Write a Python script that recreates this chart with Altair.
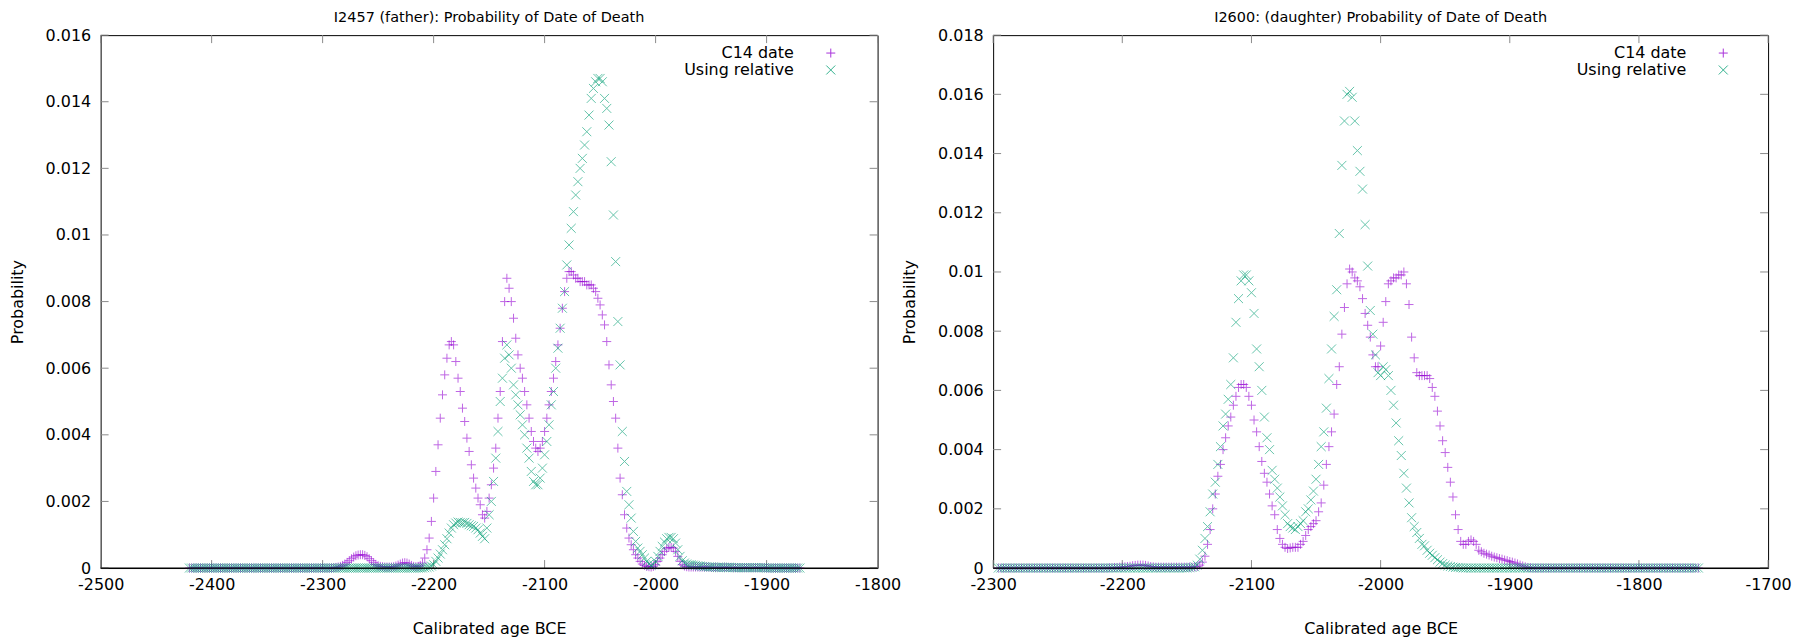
import altair as alt
import pandas as pd

FONT = "DejaVu Sans"
TITLE_L = "I2457 (father): Probability of Date of Death"
TITLE_R = "I2600: (daughter) Probability of Date of Death"
X_TITLE = "Calibrated age BCE"
Y_TITLE = "Probability"
SERIES = ["C14 date", "Using relative"]
COLORS = ["#9400d3", "#009e73"]

# ---- left panel (I2457), one value every 2 years starting at -2420 ----
L_START, L_STEP = -2420, 2
L_C14 = [
    0, 0, 0, 0, 0, 0, 0, 0, 0, 0,
    0, 0, 0, 0, 0, 0, 0, 0, 0, 0,
    0, 0, 0, 0, 0, 0, 0, 0, 0, 0,
    0, 0, 0, 0, 0, 0, 0, 0, 0, 0,
    0, 0, 0, 0, 0, 0, 0, 0, 0, 0,
    0, 0, 0, 0, 0, 0, 0, 0, 0, 0,
    0, 0, 0, 0, 0, 0.00001, 0.00002, 0.00003, 0.00005, 0.00008,
    0.00012, 0.00017, 0.00022, 0.00028, 0.00033, 0.00037, 0.00039, 0.0004, 0.0004, 0.00038,
    0.00034, 0.00028, 0.00022, 0.00016, 0.00011, 0.00007, 0.00005, 0.00004, 0.00003, 0.00003,
    0.00003, 0.00003, 0.00004, 0.00006, 0.00009, 0.00012, 0.00015, 0.00016, 0.00015, 0.00012,
    0.00008, 0.00005, 0.00004, 0.00005, 0.00008, 0.00015, 0.0003, 0.00055, 0.0009, 0.0014,
    0.0021, 0.0029, 0.0037, 0.0045, 0.0052, 0.0058, 0.0063, 0.0067, 0.0068, 0.0067,
    0.0062, 0.0057, 0.0053, 0.0048, 0.0044, 0.0039, 0.0035, 0.0031, 0.0027, 0.0024,
    0.0021, 0.0019, 0.0016, 0.0015, 0.0017, 0.0021, 0.0025, 0.003, 0.0036, 0.0045,
    0.0053, 0.0068, 0.008, 0.0087, 0.0084, 0.008, 0.0075, 0.0069, 0.0064, 0.006,
    0.0057, 0.0053, 0.0049, 0.0045, 0.0041, 0.0038, 0.0036, 0.0035, 0.0036, 0.0038,
    0.0041, 0.0045, 0.0049, 0.0053, 0.0057, 0.0062, 0.0067, 0.0072, 0.0078, 0.0083,
    0.0087, 0.0089, 0.0089, 0.0088, 0.0087, 0.0087, 0.0086, 0.0086, 0.0086, 0.0085,
    0.0085, 0.0085, 0.0084, 0.0083, 0.0081, 0.0079, 0.0076, 0.0073, 0.0068, 0.0061,
    0.0055, 0.005, 0.0045, 0.0036, 0.0027, 0.0022, 0.0016, 0.0012, 0.0009, 0.0007,
    0.00055, 0.0004, 0.0003, 0.0002, 0.00012, 0.00008, 0.00005, 0.00004, 0.00003, 0.00005,
    0.0001, 0.0002, 0.0003, 0.0004, 0.0005, 0.00058, 0.00062, 0.00062, 0.0006, 0.0005,
    0.00035, 0.0002, 0.0001, 0.00006, 0.00004, 0.00003, 0.00003, 0.00003, 0.00003, 0.00003,
    0.00003, 0.00003, 0.00003, 0.00003, 0.00003, 0.00002, 0.00002, 0.00002, 0.00002, 0.00002,
    0.00002, 0.00002, 0.00002, 0.00002, 0.00002, 0.00001, 0.00001, 0.00001, 0.00001, 0.00001,
    0.00001, 0.00001, 0.00001, 0.00001, 0.00001, 0.00001, 0.00001, 0.00001, 0.00001, 0.00001,
    0, 0, 0, 0, 0, 0, 0, 0, 0, 0,
    0, 0, 0, 0, 0, 0,
]
L_REL = [
    0, 0, 0, 0, 0, 0, 0, 0, 0, 0,
    0, 0, 0, 0, 0, 0, 0, 0, 0, 0,
    0, 0, 0, 0, 0, 0, 0, 0, 0, 0,
    0, 0, 0, 0, 0, 0, 0, 0, 0, 0,
    0, 0, 0, 0, 0, 0, 0, 0, 0, 0,
    0, 0, 0, 0, 0, 0, 0, 0, 0, 0,
    0, 0, 0, 0, 0, 0, 0, 0, 0, 0,
    0, 0, 0, 0, 0, 0, 0, 0, 0, 0,
    0, 0, 0, 0, 0, 0, 0, 0, 0, 0,
    0, 0, 0, 0, 0, 0, 0, 0, 0, 0,
    0, 0, 0, 0, 0, 0, 0.00001, 0.00002, 0.00003, 0.00006,
    0.0001, 0.0002, 0.0003, 0.00042, 0.00055, 0.0007, 0.00088, 0.00105, 0.0012, 0.0013,
    0.00135, 0.00138, 0.00137, 0.00136, 0.00137, 0.00134, 0.0013, 0.00127, 0.00125, 0.0012,
    0.00115, 0.00105, 0.00095, 0.00088, 0.0012, 0.0016, 0.002, 0.0026, 0.0033, 0.0041,
    0.005, 0.0057, 0.0063, 0.0067, 0.0064, 0.006, 0.0055, 0.0052, 0.0049, 0.0046,
    0.0043, 0.004, 0.0036, 0.0033, 0.0029, 0.0026, 0.0025, 0.0025, 0.0027, 0.003,
    0.0034, 0.0038, 0.0043, 0.0049, 0.0053, 0.006, 0.0066, 0.0072, 0.0078, 0.0083,
    0.0091, 0.0097, 0.0102, 0.0107, 0.0112, 0.0116, 0.012, 0.0123, 0.0127, 0.0131,
    0.0136, 0.0141, 0.0144, 0.0146, 0.0147, 0.0147, 0.0146, 0.0141, 0.0138, 0.0133,
    0.0122, 0.0106, 0.0092, 0.0074, 0.0061, 0.0041, 0.0032, 0.0023, 0.0019, 0.0015,
    0.0011, 0.0008, 0.0006, 0.0005, 0.0004, 0.0003, 0.0002, 0.00012, 0.00008, 0.0001,
    0.0002, 0.00035, 0.0005, 0.00065, 0.00078, 0.00088, 0.00092, 0.00092, 0.00088, 0.00075,
    0.00055, 0.00035, 0.00022, 0.00015, 0.00012, 0.0001, 0.0001, 0.00009, 0.00008, 0.00007,
    0.00006, 0.00005, 0.00004, 0.00004, 0.00003, 0.00003, 0.00003, 0.00002, 0.00002, 0.00002,
    0.00002, 0.00002, 0.00002, 0.00002, 0.00002, 0.00001, 0.00001, 0.00001, 0.00001, 0.00001,
    0.00001, 0.00001, 0.00001, 0.00001, 0.00001, 0.00001, 0.00001, 0.00001, 0.00001, 0.00001,
    0, 0, 0, 0, 0, 0, 0, 0, 0, 0,
    0, 0, 0, 0, 0, 0,
]

# ---- right panel (I2600), one value every 2 years starting at -2296 ----
R_START, R_STEP = -2296, 2
R_C14 = [
    0, 0, 0, 0, 0, 0, 0, 0, 0, 0,
    0, 0, 0, 0, 0, 0, 0, 0, 0, 0,
    0, 0, 0, 0, 0, 0, 0, 0, 0, 0,
    0, 0, 0, 0, 0, 0, 0, 0, 0, 0,
    0, 0, 0, 0.00001, 0.00001, 0.00002, 0.00002, 0.00003, 0.00003, 0.00004,
    0.00005, 0.00006, 0.00008, 0.00009, 0.0001, 0.0001, 0.0001, 0.00009, 0.00007, 0.00005,
    0.00004, 0.00003, 0.00003, 0.00003, 0.00003, 0.00003, 0.00003, 0.00003, 0.00003, 0.00003,
    0.00003, 0.00003, 0.00003, 0.00003, 0.00003, 0.00003, 0.00004, 0.00005, 0.0001, 0.0002,
    0.0004, 0.0008, 0.0013, 0.002, 0.0025, 0.0031, 0.0035, 0.004, 0.0044, 0.0048,
    0.0051, 0.0055, 0.0058, 0.0061, 0.0062, 0.0062, 0.0061, 0.0058, 0.0055, 0.005,
    0.0046, 0.0041, 0.0036, 0.0032, 0.0029, 0.0025, 0.0021, 0.0018, 0.0013, 0.001,
    0.0008, 0.0007, 0.00066, 0.00068, 0.0007, 0.0007, 0.0007, 0.0008, 0.0009, 0.0011,
    0.0013, 0.0014, 0.0015, 0.0016, 0.0019, 0.0022, 0.0028, 0.0035, 0.0041, 0.0046,
    0.0052, 0.0062, 0.0068, 0.0079, 0.0088, 0.0096, 0.0101, 0.01, 0.0098, 0.0097,
    0.0095, 0.0091, 0.0086, 0.0082, 0.0078, 0.0072, 0.0068, 0.0068, 0.0075, 0.0083,
    0.009, 0.0096, 0.0097, 0.0098, 0.0098, 0.0099, 0.0099, 0.01, 0.0096, 0.0089,
    0.0078, 0.0071, 0.0066, 0.0065, 0.0065, 0.0065, 0.0065, 0.0064, 0.0061, 0.0058,
    0.0053, 0.0048, 0.0043, 0.0039, 0.0034, 0.0029, 0.0024, 0.0018, 0.0013, 0.0009,
    0.0008, 0.0008, 0.0009, 0.00095, 0.0009, 0.0008, 0.0006, 0.00055, 0.0005, 0.00047,
    0.00044, 0.0004, 0.00037, 0.00035, 0.00032, 0.0003, 0.00027, 0.00025, 0.00022, 0.0002,
    0.00017, 0.00014, 0.0001, 0.00007, 0.00004, 0.00002, 0.00001, 0, 0, 0,
    0, 0, 0, 0, 0, 0, 0, 0, 0, 0,
    0, 0, 0, 0, 0, 0, 0, 0, 0, 0,
    0, 0, 0, 0, 0, 0, 0, 0, 0, 0,
    0, 0, 0, 0, 0, 0, 0, 0, 0, 0,
    0, 0, 0, 0, 0, 0, 0, 0, 0, 0,
    0, 0, 0, 0, 0, 0, 0, 0, 0, 0,
    0, 0,
]
R_REL = [
    0, 0, 0, 0, 0, 0, 0, 0, 0, 0,
    0, 0, 0, 0, 0, 0, 0, 0, 0, 0,
    0, 0, 0, 0, 0, 0, 0, 0, 0, 0,
    0, 0, 0, 0, 0, 0, 0, 0, 0, 0,
    0, 0, 0, 0, 0, 0, 0, 0, 0, 0,
    0, 0, 0, 0, 0, 0, 0, 0, 0, 0,
    0, 0, 0, 0, 0, 0, 0, 0, 0, 0,
    0, 0, 0, 0, 0.00001, 0.00002, 0.00004, 0.0001, 0.0003, 0.0006,
    0.001, 0.0014, 0.0019, 0.0025, 0.0029, 0.0035, 0.0041, 0.0048, 0.0052, 0.0057,
    0.0062, 0.0071, 0.0083, 0.0091, 0.0097, 0.0099, 0.0099, 0.0097, 0.0093, 0.0086,
    0.0074, 0.0068, 0.006, 0.0051, 0.0044, 0.004, 0.0033, 0.003, 0.0027, 0.0024,
    0.0021, 0.0018, 0.0015, 0.0014, 0.00135, 0.0013, 0.0014, 0.0015, 0.0016, 0.0019,
    0.002, 0.0023, 0.0026, 0.003, 0.0035, 0.0041, 0.0046, 0.0054, 0.0064, 0.0074,
    0.0085, 0.0094, 0.0113, 0.0136, 0.0151, 0.016, 0.0161, 0.0159, 0.0151, 0.0141,
    0.0134, 0.0128, 0.0116, 0.0102, 0.0087, 0.0079, 0.0072, 0.0066, 0.0065, 0.0068,
    0.0067, 0.0065, 0.006, 0.0055, 0.0049, 0.0043, 0.0038, 0.0032, 0.0027, 0.0022,
    0.0017, 0.0014, 0.0012, 0.001, 0.0008, 0.00075, 0.0006, 0.0005, 0.00043, 0.00035,
    0.00028, 0.0002, 0.00015, 0.0001, 0.00007, 0.00005, 0.00003, 0.00002, 0.00002, 0.00001,
    0, 0, 0, 0, 0, 0, 0, 0, 0, 0,
    0, 0, 0, 0, 0, 0, 0, 0, 0, 0,
    0, 0, 0, 0, 0, 0, 0, 0, 0, 0,
    0, 0, 0, 0, 0, 0, 0, 0, 0, 0,
    0, 0, 0, 0, 0, 0, 0, 0, 0, 0,
    0, 0, 0, 0, 0, 0, 0, 0, 0, 0,
    0, 0, 0, 0, 0, 0, 0, 0, 0, 0,
    0, 0, 0, 0, 0, 0, 0, 0, 0, 0,
    0, 0, 0, 0, 0, 0, 0, 0, 0, 0,
    0, 0,
]

L_XTICKS = [-2500, -2400, -2300, -2200, -2100, -2000, -1900, -1800]
L_YTICKS = [0, 0.002, 0.004, 0.006, 0.008, 0.01, 0.012, 0.014, 0.016]
R_XTICKS = [-2300, -2200, -2100, -2000, -1900, -1800, -1700]
R_YTICKS = [0, 0.002, 0.004, 0.006, 0.008, 0.01, 0.012, 0.014, 0.016, 0.018]

assert len(L_C14) == len(L_REL) == 276
assert len(R_C14) == len(R_REL) == 272

PLUS = "M-1,0L1,0M0,-1L0,1"
CROSS = "M-1,-1L1,1M-1,1L1,-1"
SHAPES = [PLUS, CROSS]
TICK = 8
TICK_COLOR = "#8a8a8a"


def panel(title, start, step, c14, rel, xticks, yticks, W, H):
    years = [start + step * i for i in range(len(c14))]
    xs = alt.Scale(domain=[xticks[0], xticks[-1]], nice=False, zero=False)
    ys = alt.Scale(domain=[yticks[0], yticks[-1]], nice=False, zero=False)
    common = dict(labelExpr="toString(datum.value)", ticks=False, tickSize=0,
                  domain=False, grid=False, labelOverlap=False,
                  labelFont=FONT, titleFont=FONT, labelFontSize=16, titleFontSize=16,
                  titleFontWeight="normal", labelColor="black", titleColor="black")
    xaxis = alt.Axis(values=xticks, title=X_TITLE, labelPadding=9, titlePadding=28,
                     labelFlush=False, **common)
    yaxis = alt.Axis(values=yticks, title=Y_TITLE, labelPadding=10, titlePadding=20,
                     **common)
    X = lambda f: alt.X(f, scale=xs, axis=xaxis)
    Y = lambda f: alt.Y(f, scale=ys, axis=yaxis)

    layers = []
    xt = pd.DataFrame({"year": xticks})
    yt = pd.DataFrame({"p": yticks})
    rule = dict(color=TICK_COLOR, strokeWidth=1)
    layers.append(alt.Chart(xt).mark_rule(**rule).encode(
        x=X("year:Q"), y=alt.value(H), y2=alt.value(H - TICK)))
    layers.append(alt.Chart(xt).mark_rule(**rule).encode(
        x=X("year:Q"), y=alt.value(0), y2=alt.value(TICK)))
    layers.append(alt.Chart(yt).mark_rule(**rule).encode(
        y=Y("p:Q"), x=alt.value(0), x2=alt.value(TICK)))
    layers.append(alt.Chart(yt).mark_rule(**rule).encode(
        y=Y("p:Q"), x=alt.value(W), x2=alt.value(W - TICK)))

    for name, vals, shape, color in zip(SERIES, [c14, rel], SHAPES, COLORS):
        df = pd.DataFrame({"year": years, "p": vals, "series": name})
        layers.append(alt.Chart(df).mark_point(
            shape=shape, filled=False, size=81, strokeWidth=1,
            color=color, opacity=0.6).encode(x=X("year:Q"), y=Y("p:Q")))

    zero = pd.DataFrame({"p": [0]})
    layers.append(alt.Chart(zero).mark_rule(color="black", strokeWidth=1.2).encode(
        y=Y("p:Q"), x=alt.value(0), x2=alt.value(W)))

    # key (top right, label then symbol as in the original)
    for i, (name, shape, color) in enumerate(zip(SERIES, SHAPES, COLORS)):
        ly = 18 + 17 * i
        kd = pd.DataFrame({"label": [name]})
        layers.append(alt.Chart(kd).mark_text(
            align="right", baseline="middle", fontSize=16, font=FONT, color="black"
        ).encode(text="label:N", x=alt.value(696), y=alt.value(ly)))
        layers.append(alt.Chart(kd).mark_point(
            shape=shape, filled=False, size=81, strokeWidth=1, color=color, opacity=0.8
        ).encode(x=alt.value(733), y=alt.value(ly)))

    return alt.layer(*layers).properties(
        width=W, height=H,
        title=alt.TitleParams(text=title, fontSize=14.5, font=FONT, fontWeight="normal",
                              anchor="middle", frame="group", baseline="alphabetic",
                              offset=-9, color="black"),
    )


left = panel(TITLE_L, L_START, L_STEP, L_C14, L_REL, L_XTICKS, L_YTICKS, 780, 535)
right = panel(TITLE_R, R_START, R_STEP, R_C14, R_REL, R_XTICKS, R_YTICKS, 778, 535)

chart = alt.hconcat(left, right, spacing=116, bounds="flush").properties(
    padding={"left": 0, "right": 0, "top": 0, "bottom": 0},
    background="white",
).configure_view(stroke="black", strokeWidth=1)

chart.save("out.html", embed_options={"renderer": "svg", "actions": False})
